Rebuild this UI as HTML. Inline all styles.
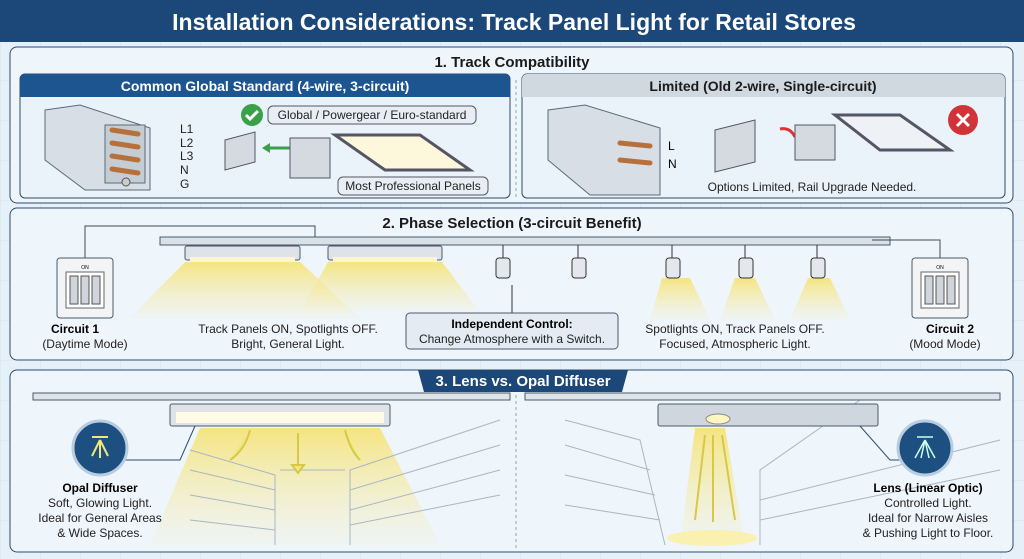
<!DOCTYPE html>
<html><head><meta charset="utf-8"><style>
html,body{margin:0;padding:0;width:1024px;height:559px;overflow:hidden;background:#e6f0f8}
svg{display:block;font-family:"Liberation Sans",sans-serif}
</style></head><body>
<svg width="1024" height="559" viewBox="0 0 1024 559" xmlns="http://www.w3.org/2000/svg">
<defs>
<pattern id="g" width="40" height="40" patternUnits="userSpaceOnUse"><path d="M40 0H0V40" fill="none" stroke="#d4e2ee" stroke-width="1"/></pattern>
<linearGradient id="cone" x1="0" y1="0" x2="0" y2="1"><stop offset="0" stop-color="#f5e47a" stop-opacity=".95"/><stop offset="1" stop-color="#f7ecb0" stop-opacity="0.1"/></linearGradient>
</defs>
<rect width="1024" height="559" fill="#e6f0f8"/><rect width="1024" height="559" fill="url(#g)"/>
<rect width="1024" height="42" fill="#1b4878"/>
<text x="514" y="30" fill="#fff" font-size="23" font-weight="bold" text-anchor="middle">Installation Considerations: Track Panel Light for Retail Stores</text>

<!-- Section 1 -->
<rect x="10" y="47" width="1003" height="156" rx="7" fill="#eef5fb" stroke="#2c4c6c"/>
<text x="512" y="67" font-size="15" font-weight="bold" text-anchor="middle" fill="#1a1a1a">1. Track Compatibility</text>
<rect x="20" y="74" width="490" height="124" rx="5" fill="#eaf2fa" stroke="#2c4c6c"/>
<path d="M20 97V79a5 5 0 0 1 5-5h480a5 5 0 0 1 5 5v18z" fill="#1d5591"/>
<text x="265" y="91" font-size="14" font-weight="bold" text-anchor="middle" fill="#fff">Common Global Standard (4-wire, 3-circuit)</text>
<rect x="522" y="74" width="483" height="124" rx="5" fill="#eaf2fa" stroke="#2c4c6c"/>
<path d="M522 97V79a5 5 0 0 1 5-5h473a5 5 0 0 1 5 5v18z" fill="#d0d8e0"/>
<text x="763" y="91" font-size="14" font-weight="bold" text-anchor="middle" fill="#1a1a1a">Limited (Old 2-wire, Single-circuit)</text>
<line x1="516" y1="80" x2="516" y2="198" stroke="#8aa" stroke-dasharray="3 3"/>
<path d="M45 110 L80 105 L150 128 L150 190 L85 190 L45 160Z" fill="#d8dee5" stroke="#5a6a7a"/>
<rect x="105" y="125" width="40" height="58" fill="#c4ccd4" stroke="#5a6a7a"/>
<g stroke="#b8703a" stroke-width="5" stroke-linecap="round"><line x1="112" y1="130" x2="138" y2="134"/><line x1="112" y1="143" x2="138" y2="147"/><line x1="112" y1="156" x2="138" y2="160"/><line x1="112" y1="169" x2="138" y2="173"/></g>
<circle cx="126" cy="182" r="4" fill="#ccc" stroke="#555"/>
<g font-size="12" fill="#222"><text x="180" y="133">L1</text><text x="180" y="147">L2</text><text x="180" y="160">L3</text><text x="180" y="174">N</text><text x="180" y="188">G</text></g>
<circle cx="252" cy="115" r="11" fill="#3aa04a"/><path d="M246 115l4 4 8-8" stroke="#fff" stroke-width="3" fill="none"/>
<rect x="268" y="106" width="208" height="18" rx="5" fill="#e8eef4" stroke="#556"/>
<text x="372" y="119" font-size="12" text-anchor="middle" fill="#222">Global / Powergear / Euro-standard</text>
<path d="M225 140l30-8v30l-30 8z" fill="#d4dae0" stroke="#556"/>
<path d="M270 148h20" stroke="#3aa04a" stroke-width="3"/><path d="M262 148l8-5v10z" fill="#3aa04a"/>
<rect x="290" y="138" width="40" height="40" fill="#d4dae0" stroke="#556"/>
<path d="M335 135 L420 135 L470 170 L385 170Z" fill="#fdf8dc" stroke="#556" stroke-width="3"/>
<rect x="338" y="177" width="150" height="18" rx="5" fill="#e8eef4" stroke="#556"/>
<text x="413" y="190" font-size="12" text-anchor="middle" fill="#222">Most Professional Panels</text>
<path d="M548 110 L585 105 L660 128 L660 195 L590 195 L548 160Z" fill="#d8dee5" stroke="#5a6a7a"/>
<g stroke="#b8703a" stroke-width="5" stroke-linecap="round"><line x1="620" y1="143" x2="650" y2="146"/><line x1="620" y1="160" x2="650" y2="163"/></g>
<text x="668" y="150" font-size="12">L</text><text x="668" y="168" font-size="12">N</text>
<path d="M715 130l40-10v42l-40 10z" fill="#d4dae0" stroke="#556"/>
<path d="M795 137q-5-10-15-8" stroke="#d33" stroke-width="3" fill="none"/>
<rect x="795" y="125" width="40" height="35" fill="#d4dae0" stroke="#556"/>
<path d="M835 115 L900 115 L950 150 L880 150Z" fill="#eef2f6" stroke="#556" stroke-width="3"/>
<circle cx="963" cy="120" r="15" fill="#d13438"/><path d="M957 114l12 12M969 114l-12 12" stroke="#fff" stroke-width="3"/>
<text x="812" y="191" font-size="12" text-anchor="middle" fill="#222">Options Limited, Rail Upgrade Needed.</text>

<!-- Section 2 -->
<rect x="10" y="208" width="1003" height="152" rx="7" fill="#eef5fb" stroke="#2c4c6c"/>
<text x="512" y="228" font-size="15" font-weight="bold" text-anchor="middle" fill="#1a1a1a">2. Phase Selection (3-circuit Benefit)</text>
<path d="M185 262 L300 262 L360 318 L130 318Z" fill="url(#cone)"/>
<path d="M328 262 L442 262 L480 312 L300 312Z" fill="url(#cone)"/>
<path d="M662 278 L690 278 L710 320 L650 320Z M735 278 L755 278 L775 320 L720 320Z M808 278 L830 278 L850 320 L790 320Z" fill="url(#cone)"/>
<rect x="160" y="237" width="730" height="8" fill="#d8e0e8" stroke="#4a5a6a"/>
<path d="M85 258V226h230v11M940 258V240h-68" stroke="#3a4a5a" fill="none"/>
<rect x="185" y="246" width="115" height="14" rx="2" fill="#dde3e9" stroke="#4a5a6a"/><rect x="190" y="257" width="105" height="5" fill="#fff6c8"/>
<rect x="328" y="246" width="114" height="14" rx="2" fill="#dde3e9" stroke="#4a5a6a"/><rect x="333" y="257" width="104" height="5" fill="#fff6c8"/>
<g fill="#e4e8ec" stroke="#333"><rect x="496" y="258" width="14" height="20" rx="3"/><rect x="572" y="258" width="14" height="20" rx="3"/><rect x="666" y="258" width="14" height="20" rx="3"/><rect x="739" y="258" width="14" height="20" rx="3"/><rect x="811" y="258" width="14" height="20" rx="3"/></g>
<g stroke="#333"><line x1="503" y1="245" x2="503" y2="258"/><line x1="578" y1="245" x2="578" y2="258"/><line x1="672" y1="245" x2="672" y2="258"/><line x1="745" y1="245" x2="745" y2="258"/><line x1="817" y1="245" x2="817" y2="258"/><line x1="512" y1="285" x2="512" y2="313"/></g>
<rect x="57" y="258" width="56" height="60" rx="3" fill="#f2f4f6" stroke="#4a5a6a"/>
<rect x="66" y="272" width="38" height="36" fill="#fff" stroke="#666"/>
<g fill="#cfd5db" stroke="#555"><rect x="70" y="276" width="8" height="28"/><rect x="81" y="276" width="8" height="28"/><rect x="92" y="276" width="8" height="28"/></g>
<text x="85" y="269" font-size="5" text-anchor="middle">ON</text>
<rect x="912" y="258" width="56" height="60" rx="3" fill="#f2f4f6" stroke="#4a5a6a"/>
<rect x="921" y="272" width="38" height="36" fill="#fff" stroke="#666"/>
<g fill="#cfd5db" stroke="#555"><rect x="925" y="276" width="8" height="28"/><rect x="936" y="276" width="8" height="28"/><rect x="947" y="276" width="8" height="28"/></g>
<text x="940" y="269" font-size="5" text-anchor="middle">ON</text>
<text x="75" y="333" font-size="12" font-weight="bold" text-anchor="middle">Circuit 1</text>
<text x="85" y="348" font-size="12" text-anchor="middle" fill="#222">(Daytime Mode)</text>
<text x="950" y="333" font-size="12" font-weight="bold" text-anchor="middle">Circuit 2</text>
<text x="945" y="348" font-size="12" text-anchor="middle" fill="#222">(Mood Mode)</text>
<text x="288" y="333" font-size="12" text-anchor="middle" fill="#222">Track Panels ON, Spotlights OFF.</text>
<text x="288" y="348" font-size="12" text-anchor="middle" fill="#222">Bright, General Light.</text>
<text x="735" y="333" font-size="12" text-anchor="middle" fill="#222">Spotlights ON, Track Panels OFF.</text>
<text x="735" y="348" font-size="12" text-anchor="middle" fill="#222">Focused, Atmospheric Light.</text>
<rect x="406" y="313" width="212" height="36" rx="4" fill="#e4ebf2" stroke="#4a5a6a"/>
<text x="512" y="328" font-size="12" font-weight="bold" text-anchor="middle">Independent Control:</text>
<text x="512" y="343" font-size="12" text-anchor="middle" fill="#222">Change Atmosphere with a Switch.</text>

<!-- Section 3 -->
<rect x="10" y="370" width="1003" height="182" rx="7" fill="#eef5fb" stroke="#2c4c6c"/>
<path d="M418 370h210l-6 22H424z" fill="#1b4878"/>
<text x="523" y="386" font-size="15" font-weight="bold" text-anchor="middle" fill="#fff">3. Lens vs. Opal Diffuser</text>
<path d="M200 428 L380 428 L440 545 L150 545Z" fill="url(#cone)"/>
<g stroke="#a9b6c2" fill="none" stroke-width="1">
<path d="M190 450 L275 475 L275 545 M500 420 L350 470 L350 545 M280 470 L345 470 M190 470L275 490M190 495L275 510M190 520L275 530M500 445L350 490M500 470L350 510M500 495L350 525"/>
<path d="M565 420 L640 440 L665 545 M565 445L650 470M565 475L655 495M565 505L660 520 M860 400 L760 470 L760 545 M1000 440L760 500M1000 470L760 520"/>
</g>
<path d="M695 428 L725 428 L745 545 L680 545Z" fill="url(#cone)"/>
<ellipse cx="712" cy="538" rx="45" ry="8" fill="#faf0b0"/>
<rect x="33" y="393" width="477" height="7" fill="#dde4ea" stroke="#4a5a6a"/>
<rect x="525" y="393" width="475" height="7" fill="#dde4ea" stroke="#4a5a6a"/>
<line x1="516" y1="395" x2="516" y2="548" stroke="#8aa" stroke-dasharray="3 3"/>
<rect x="170" y="404" width="220" height="22" rx="2" fill="#dde3e9" stroke="#4a5a6a"/><rect x="176" y="412" width="208" height="11" fill="#fffbe6"/>
<rect x="658" y="404" width="220" height="22" rx="2" fill="#cfd6dd" stroke="#4a5a6a"/>
<ellipse cx="718" cy="419" rx="12" ry="5" fill="#fff6c0" stroke="#888"/>
<g stroke="#d8c848" stroke-width="2" fill="#f3e67a">
<path d="M298 433V465"/><path d="M292 465h12l-6 8z"/><path d="M250 430q-5 20-20 30"/><path d="M345 430q5 20 15 30"/>
<path d="M705 435L695 520M713 435V522M722 435L735 520"/></g>
<path d="M195 426L180 460H125M860 426L890 460H925" stroke="#2c4c6c" fill="none"/>
<circle cx="100" cy="448" r="27" fill="#1d4f80" stroke="#b9cde0" stroke-width="3"/>
<path d="M92 437h16M100 440l-8 16M100 440v18M100 440l8 16" stroke="#f3e67a" stroke-width="2"/>
<circle cx="925" cy="448" r="27" fill="#1d4f80" stroke="#b9cde0" stroke-width="3"/>
<path d="M917 437h16M925 440l-10 18M925 440l-4 18M925 440l4 18M925 440l10 18" stroke="#cfe" stroke-width="1.5"/>
<text x="100" y="492" font-size="12" font-weight="bold" text-anchor="middle">Opal Diffuser</text>
<text x="100" y="507" font-size="12" text-anchor="middle" fill="#222">Soft, Glowing Light.</text>
<text x="100" y="522" font-size="12" text-anchor="middle" fill="#222">Ideal for General Areas</text>
<text x="100" y="537" font-size="12" text-anchor="middle" fill="#222">&amp; Wide Spaces.</text>
<text x="928" y="492" font-size="12" font-weight="bold" text-anchor="middle">Lens (Linear Optic)</text>
<text x="928" y="507" font-size="12" text-anchor="middle" fill="#222">Controlled Light.</text>
<text x="928" y="522" font-size="12" text-anchor="middle" fill="#222">Ideal for Narrow Aisles</text>
<text x="928" y="537" font-size="12" text-anchor="middle" fill="#222">&amp; Pushing Light to Floor.</text>
</svg>
</body></html>
